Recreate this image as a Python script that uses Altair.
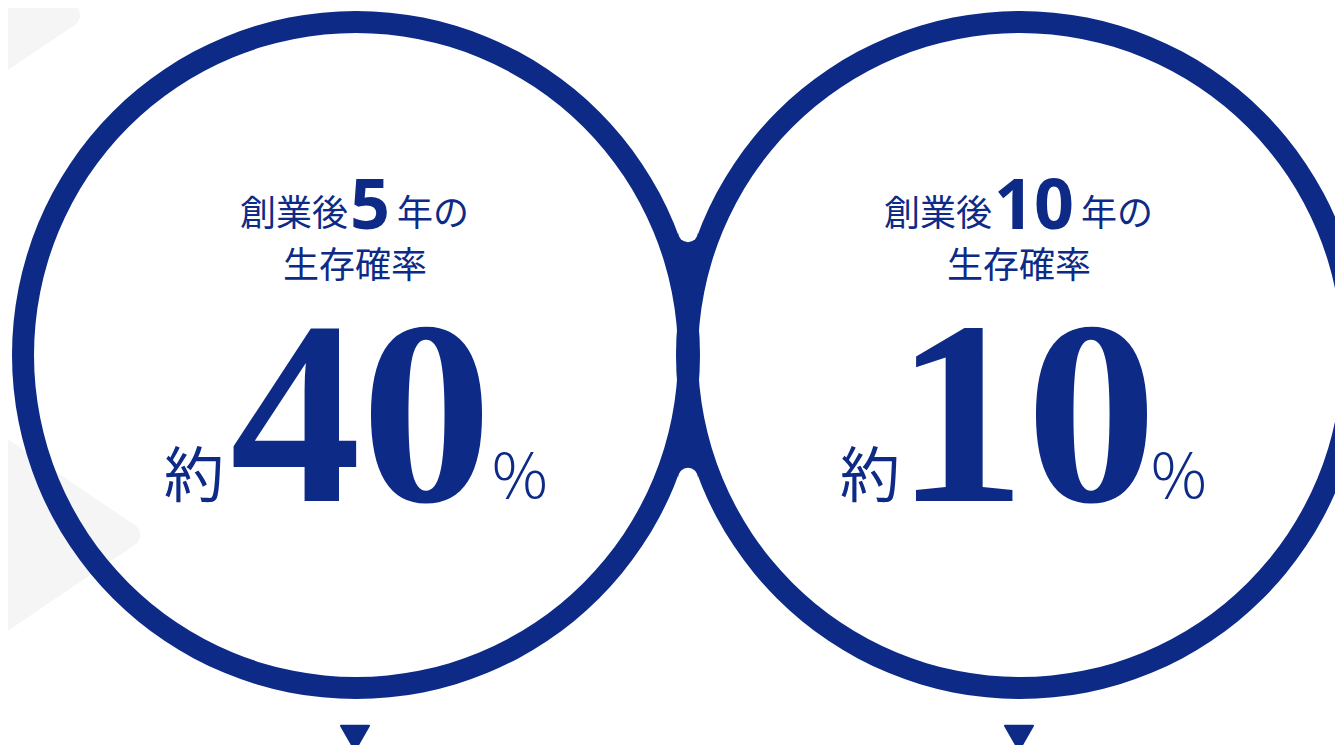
import math
import altair as alt
import pandas as pd

# ---------------- content ----------------
headline_pre = ["創業後", "創業後"]
headline_years = ["5", "10"]
headline_post = ["年の", "年の"]
subline = ["生存確率", "生存確率"]
prefix = ["約", "約"]
survival_pct = ["40", "10"]
suffix = ["%", "%"]

# ---------------- style / layout ----------------
BLUE = "#0d2a87"
GRAY = "#f5f5f5"
WHITE = "#ffffff"
CJK = "Noto Sans CJK JP"
W, H, OFF = 1327, 737, 8          # page pixels -> data units (page margin 8)

cx = [356, 1020]                   # ring centres
cy = 355
R_OUT, R_IN = 344, 322
RF = 10                            # fillet radius of the neck

xs = alt.Scale(domain=[OFF, OFF + W], range=[0, W], zero=False, nice=False)
ys = alt.Scale(domain=[OFF, OFF + H], range=[0, H], zero=False, nice=False)


def X(f="x"):
    return alt.X(f"{f}:Q", scale=xs, axis=None)


def Y(f="y"):
    return alt.Y(f"{f}:Q", scale=ys, axis=None)


# background decorative "play" triangles (rounded by a round-joined stroke)
bg = pd.DataFrame({"x": [-172, -232], "y": [535, 15]})
bg_layer = alt.Chart(bg).mark_point(
    shape="M-1,-1.354 L1,0 L-1,1.354 Z", size=600 ** 2, filled=True,
    fill=GRAY, stroke=GRAY, strokeWidth=24, strokeJoin="round", opacity=1
).encode(x=X(), y=Y())

# neck between the two rings
xm = (cx[0] + cx[1]) / 2
d = (cx[1] - cx[0]) / 2
yf = cy - math.sqrt((R_OUT + RF) ** 2 - d ** 2)
neck = pd.DataFrame({"x": [xm - 10], "x2": [xm + 10], "y": [yf], "y2": [2 * cy - yf]})
neck_layer = alt.Chart(neck).mark_rect(color=BLUE).encode(
    x=X(), x2="x2:Q", y=Y(), y2="y2:Q")
fillets = pd.DataFrame({"x": [xm, xm], "y": [yf, 2 * cy - yf]})
fillet_layer = alt.Chart(fillets).mark_arc(
    radius=RF, radius2=0, theta=0, theta2=2 * math.pi, color=WHITE
).encode(x=X(), y=Y())

# rings
rings = pd.DataFrame({"x": cx, "y": [cy, cy]})
ring_layer = alt.Chart(rings).mark_arc(
    radius=R_OUT, radius2=R_IN, theta=0, theta2=2 * math.pi, color=BLUE
).encode(x=X(), y=Y())

# down arrows under each ring
arrows = pd.DataFrame({"x": [c - 1 for c in cx], "y": [738, 738]})
arrow_layer = alt.Chart(arrows).mark_point(
    shape="M-1,-0.87 L1,-0.87 L0,0.87 Z", size=28 ** 2, filled=True,
    fill=BLUE, stroke=BLUE, strokeWidth=2, strokeJoin="round", opacity=1
).encode(x=X(), y=Y())

# ---------------- headline (mixed sizes) ----------------
FS_CJK, FS_NUM = 36, 70
NUM_ADV = 0.572 * FS_NUM
G1, G2 = 2, 7
rows_pre, rows_num, rows_post = [], [], []
for i in range(2):
    wn = NUM_ADV * len(headline_years[i])
    total = FS_CJK * len(headline_pre[i]) + G1 + wn + G2 + FS_CJK * len(headline_post[i])
    start = cx[i] - 1.5 - total / 2
    pre_r = start + FS_CJK * len(headline_pre[i])
    rows_pre.append({"x": pre_r, "y": 226, "t": headline_pre[i]})
    rows_num.append({"x": pre_r + G1 + wn / 2, "y": 229, "t": headline_years[i]})
    rows_post.append({"x": pre_r + G1 + wn + G2, "y": 226, "t": headline_post[i]})

pre_layer = alt.Chart(pd.DataFrame(rows_pre)).mark_text(
    font=CJK, fontSize=FS_CJK, color=BLUE, align="right", baseline="alphabetic"
).encode(x=X(), y=Y(), text="t:N")
num_layer = alt.Chart(pd.DataFrame(rows_num)).mark_text(
    font="Noto Sans", fontWeight="bold", fontSize=FS_NUM, color=BLUE,
    align="center", baseline="alphabetic"
).encode(x=X(), y=Y(), text="t:N")
post_layer = alt.Chart(pd.DataFrame(rows_post)).mark_text(
    font=CJK, fontSize=FS_CJK, color=BLUE, align="left", baseline="alphabetic"
).encode(x=X(), y=Y(), text="t:N")

sub = pd.DataFrame({"x": [c - 1 for c in cx], "y": [278, 278], "t": subline})
sub_layer = alt.Chart(sub).mark_text(
    font=CJK, fontSize=FS_CJK, color=BLUE, align="center", baseline="alphabetic"
).encode(x=X(), y=Y(), text="t:N")

# ---------------- big value ----------------
big_dx = [5, 6]
big = pd.DataFrame({"x": [cx[i] + big_dx[i] for i in range(2)], "y": [501, 501],
                    "t": survival_pct})
big_layer = alt.Chart(big).mark_text(
    font="Liberation Serif", fontWeight="bold", fontSize=262, color=BLUE,
    align="center", baseline="alphabetic"
).encode(x=X(), y=Y(), text="t:N")

pre_dx = [-132, -120]
about = pd.DataFrame({"x": [cx[i] + pre_dx[i] for i in range(2)], "y": [497, 497],
                      "t": prefix})
about_layer = alt.Chart(about).mark_text(
    font=CJK, fontSize=60, color=BLUE, align="right", baseline="alphabetic"
).encode(x=X(), y=Y(), text="t:N")

suf_dx = [136, 131]
pct = pd.DataFrame({"x": [cx[i] + suf_dx[i] for i in range(2)], "y": [498, 498],
                    "t": suffix})
pct_layer = alt.Chart(pct).mark_text(
    font=CJK, fontSize=62, fontWeight=300, color=BLUE, align="left",
    baseline="alphabetic"
).encode(x=X(), y=Y(), text="t:N")

chart = alt.layer(
    bg_layer, neck_layer, fillet_layer, ring_layer, arrow_layer,
    pre_layer, num_layer, post_layer, sub_layer,
    big_layer, about_layer, pct_layer
).properties(
    width=W, height=H, padding=0, background=WHITE,
    autosize=alt.AutoSizeParams(type="none")
).configure_view(stroke=None)

chart.save("out.html", embed_options={"renderer": "svg", "actions": False})
